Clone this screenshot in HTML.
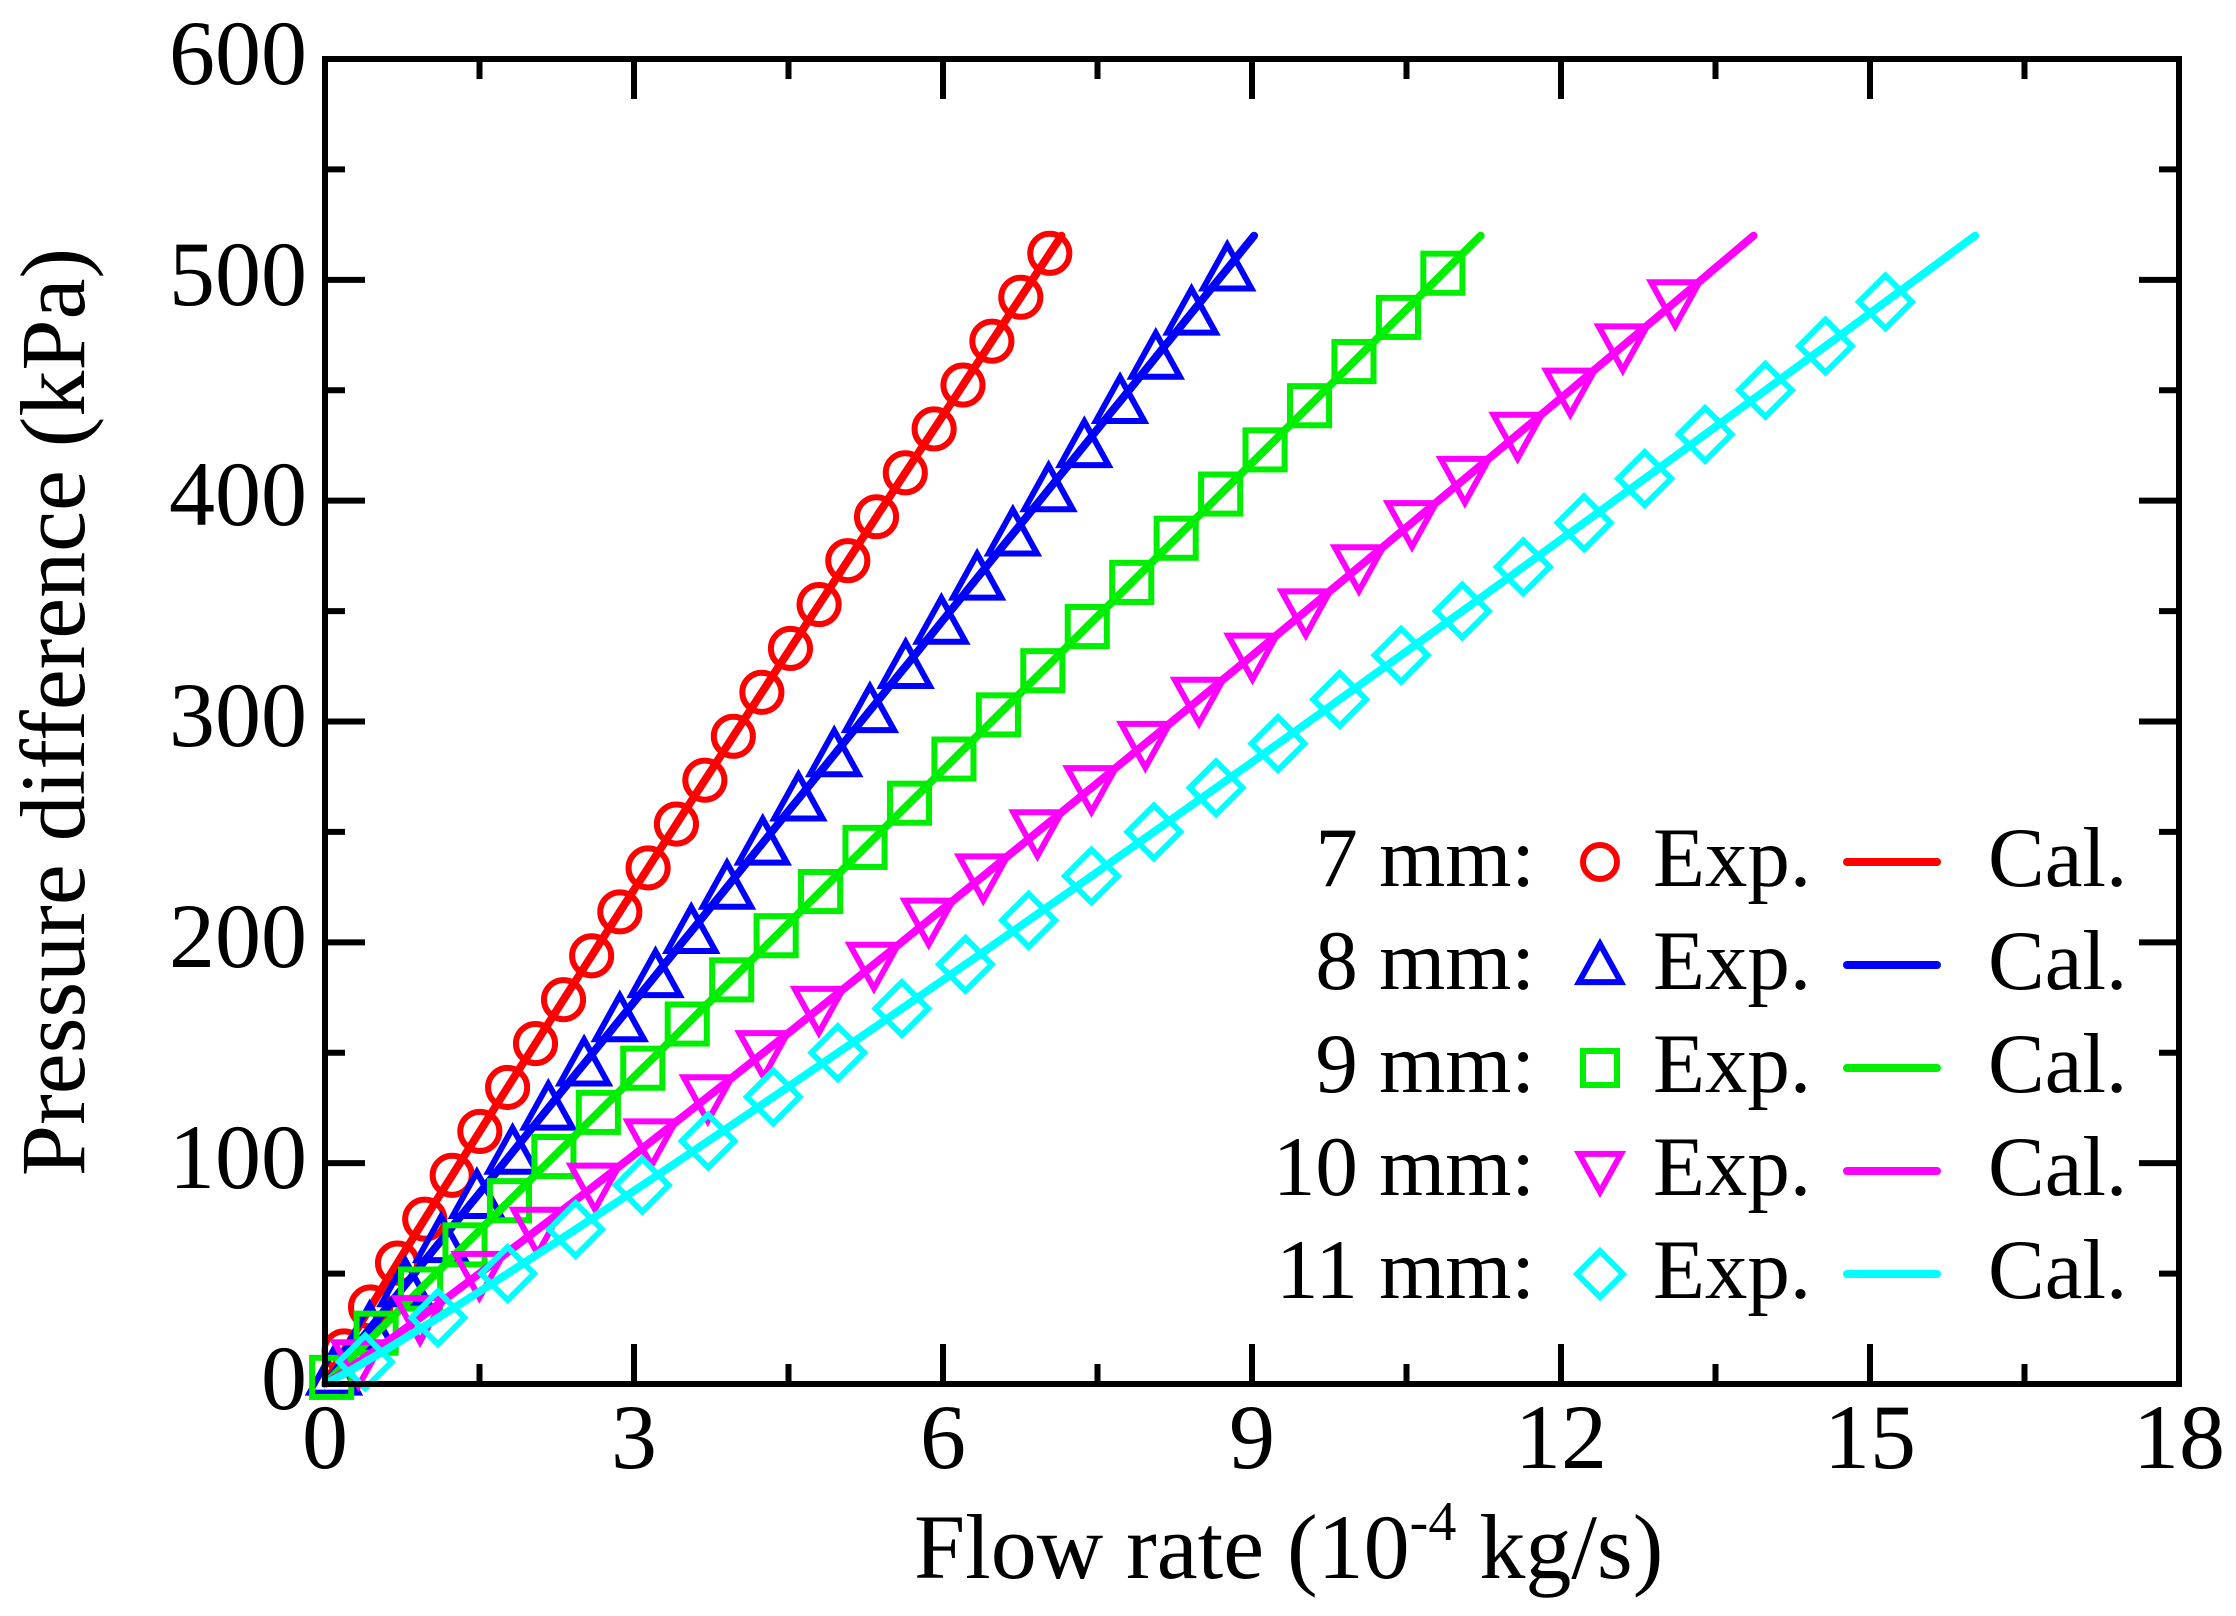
<!DOCTYPE html>
<html><head><meta charset="utf-8"><style>
html,body{margin:0;padding:0;background:#fff;}
svg{display:block;}
text{font-family:"Liberation Serif",serif;fill:#000;}
</style></head><body>
<svg id="s" width="2236" height="1616" viewBox="0 0 2236 1616" xmlns="http://www.w3.org/2000/svg">
<rect width="2236" height="1616" fill="#fff"/>
<g id="plot"></g>
<g id="axes" stroke="#000" stroke-width="6" fill="none" stroke-linecap="square">
<rect x="325" y="59" width="1854" height="1325"/>
</g>
<g id="ticks" stroke="#000" stroke-width="6"></g>
<g font-size="92" text-anchor="end">
<text x="307" y="1409">0</text>
<text x="307" y="1188">100</text>
<text x="307" y="967">200</text>
<text x="307" y="746">300</text>
<text x="307" y="525">400</text>
<text x="307" y="305">500</text>
<text x="307" y="84">600</text>
</g>
<g font-size="92" text-anchor="middle">
<text x="325" y="1468">0</text>
<text x="634" y="1468">3</text>
<text x="943" y="1468">6</text>
<text x="1252" y="1468">9</text>
<text x="1561" y="1468">12</text>
<text x="1870" y="1468">15</text>
<text x="2179" y="1468">18</text>
</g>
<text x="914" y="1578" font-size="92">Flow rate (10<tspan font-size="56" dy="-38">-4</tspan><tspan dy="38"> kg/s)</tspan></text>
<text transform="translate(84,712) rotate(-90)" font-size="92" text-anchor="middle">Pressure difference (kPa)</text>
<g font-size="85">
<g text-anchor="end">
<text x="1535" y="886">7 mm:</text>
<text x="1535" y="989">8 mm:</text>
<text x="1535" y="1092">9 mm:</text>
<text x="1535" y="1195">10 mm:</text>
<text x="1535" y="1298">11 mm:</text>
</g>
<text x="1653" y="886">Exp.</text>
<text x="1653" y="989">Exp.</text>
<text x="1653" y="1092">Exp.</text>
<text x="1653" y="1195">Exp.</text>
<text x="1653" y="1298">Exp.</text>
<text x="1988" y="886">Cal.</text>
<text x="1988" y="989">Cal.</text>
<text x="1988" y="1092">Cal.</text>
<text x="1988" y="1195">Cal.</text>
<text x="1988" y="1298">Cal.</text>
</g>
<g id="leg"></g>
</svg>
<script>
const NS="http://www.w3.org/2000/svg";
const X=v=>325+103*v, Y=p=>1384-2.2083*p;
function el(par,tag,attrs){const e=document.createElementNS(NS,tag);for(const k in attrs)e.setAttribute(k,attrs[k]);par.appendChild(e);return e;}
const ticks=document.getElementById('ticks');
for(let i=1;i<12;i++){const x=325+i*1.5*103;const L=(i%2==0)?40:20;
 el(ticks,'line',{x1:x,y1:1384,x2:x,y2:1384-L});el(ticks,'line',{x1:x,y1:59,x2:x,y2:59+L});}
for(let i=1;i<12;i++){const y=Y(i*50);const L=(i%2==0)?40:20;
 el(ticks,'line',{x1:325,y1:y,x2:325+L,y2:y});el(ticks,'line',{x1:2179,y1:y,x2:2179-L,y2:y});}
function marker(par,type,cx,cy,col,s){
 const a={fill:'none',stroke:col,'stroke-width':6,'stroke-linejoin':'miter'};
 if(type=='c'){a.cx=cx;a.cy=cy;a.r=17*s;return el(par,'circle',a);}
 if(type=='s'){a.x=cx-17*s;a.y=cy-17*s;a.width=34*s;a.height=34*s;return el(par,'rect',a);}
 let pts;
 if(type=='u'){const w=21*s,h=19*s;pts=[[cx,cy-h*1.1],[cx+w,cy+h*0.9],[cx-w,cy+h*0.9]];}
 if(type=='d'){const w=21*s,h=19*s;pts=[[cx,cy+h*1.1],[cx+w,cy-h*0.9],[cx-w,cy-h*0.9]];}
 if(type=='D'){const r=23*s;pts=[[cx,cy-r],[cx+r,cy],[cx,cy+r],[cx-r,cy]];}
 a.points=pts.map(p=>p.join(',')).join(' ');return el(par,'polygon',a);
}
const series=[
 {col:'#ff0000',t:'c',top:7.15,b:1.03,p0:512,p1:15,n:26},
 {col:'#0000ff',t:'u',top:9.02,b:1.0,p0:505,p1:5,n:26},
 {col:'#00ee00',t:'s',top:11.22,b:1.0,p0:503,p1:3,n:26},
 {col:'#ff00ff',t:'d',top:13.87,b:0.95,p0:490,p1:10,n:25},
 {col:'#00ffff',t:'D',top:16.02,b:0.94,p0:490,p1:10,n:25}
];
const plot=document.getElementById('plot');
const f=(s,p)=>s.top*Math.pow(Math.max(p,0)/520,s.b);
series.forEach(s=>{
 const g=el(plot,'g',{});
 for(let k=0;k<s.n;k++){const p=s.p0-(s.p0-s.p1)*k/(s.n-1);
  marker(g,s.t,X(f(s,p)),Y(p),s.col,1.15);}
 let d='';for(let p=0;p<=520;p+=5){d+=(p?'L':'M')+X(f(s,p)).toFixed(1)+','+Y(p).toFixed(1);}
 el(g,'path',{d:d,fill:'none',stroke:s.col,'stroke-width':8,'stroke-linecap':'round'});
});
const leg=document.getElementById('leg');
series.forEach((s,i)=>{const y=862+103*i;
 marker(leg,s.t,1600,y,s.col,1.0);
 el(leg,'line',{x1:1847,y1:y,x2:1937,y2:y,stroke:s.col,'stroke-width':8,'stroke-linecap':'round'});
});
</script>
</body></html>
